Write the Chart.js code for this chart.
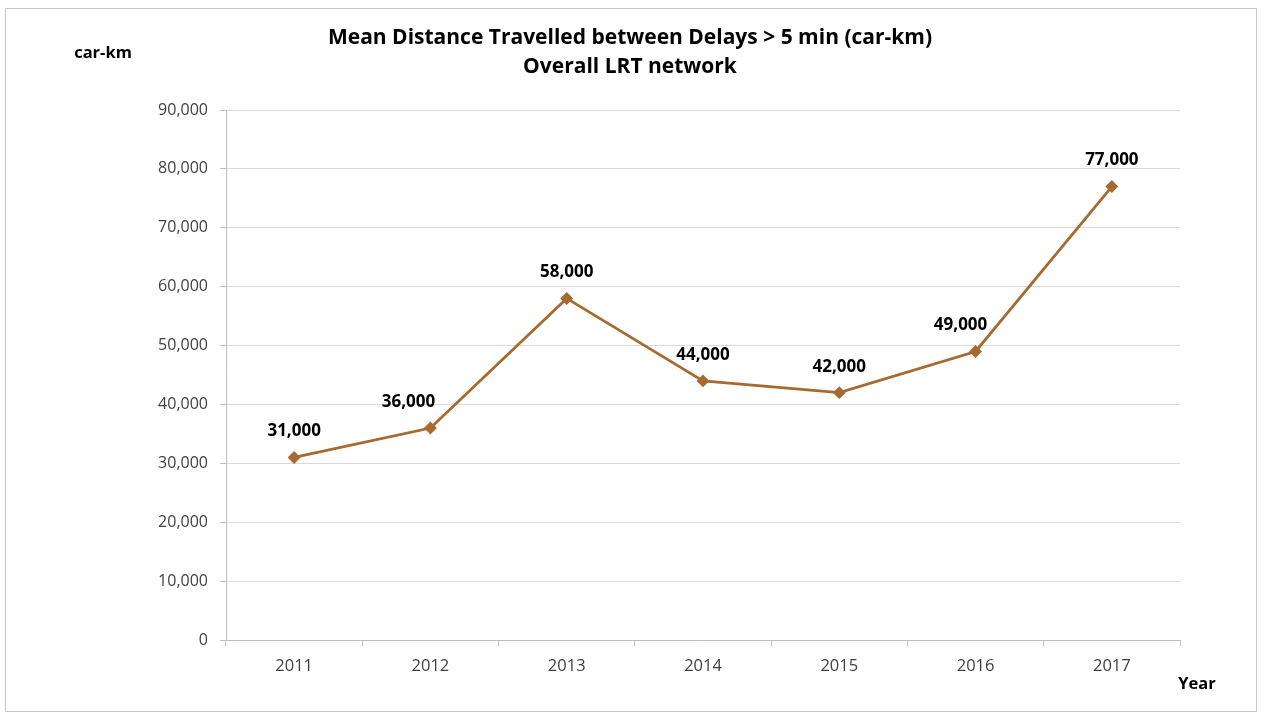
<!DOCTYPE html>
<html>
<head>
<meta charset="utf-8">
<script src="https://cdn.jsdelivr.net/npm/chart.js@4/dist/chart.umd.min.js"></script>
<style>
  html, body { margin: 0; padding: 0; background: #fff; }
  #wrap { width: 1261px; height: 717px; }
</style>
</head>
<body>
<div id="wrap"><canvas id="lrtChart" width="1261" height="717"></canvas></div>
<script>
    // Données
    const years = ['2011', '2012', '2013', '2014', '2015', '2016', '2017'];
    const meanDistance = [31000, 36000, 58000, 44000, 42000, 49000, 77000];
    const titleLines = ['Mean Distance Travelled between Delays > 5 min (car-km)', 'Overall LRT network'];

    const FONT = '"Open Sans", "DejaVu Sans", sans-serif';
    const LINE_COLOR = '#A6692F';

    // Cadre, titres et étiquettes de valeurs
    const decorations = {
        id: 'decorations',
        beforeDraw(chart) {
            const ctx = chart.ctx;
            ctx.save();
            ctx.fillStyle = '#fff';
            ctx.fillRect(0, 0, chart.width, chart.height);
            ctx.strokeStyle = '#c8c8c8';
            ctx.lineWidth = 1;
            ctx.strokeRect(5.5, 8.5, 1251, 703);
            ctx.restore();
        },
        afterDraw(chart) {
            const ctx = chart.ctx;
            ctx.save();
            ctx.fillStyle = '#000';
            ctx.textAlign = 'center';
            ctx.textBaseline = 'middle';
            ctx.font = 'bold 21px ' + FONT;
            ctx.fillText(titleLines[0], 630, 38);
            ctx.fillText(titleLines[1], 630, 67);

            ctx.font = 'bold 16.5px ' + FONT;
            ctx.fillText('car-km', 103, 53);
            ctx.fillText('Year', 1197, 684);

            // étiquettes au-dessus des points
            const shift = [0, -22, 0, 0, 0, -15, 0];
            ctx.font = 'bold 17px ' + FONT;
            const meta = chart.getDatasetMeta(0);
            meta.data.forEach(function (pt, i) {
                const label = meanDistance[i].toLocaleString('en-US');
                ctx.fillText(label, pt.x + shift[i], pt.y - 26);
            });
            ctx.restore();
        }
    };

    const ctx = document.getElementById('lrtChart').getContext('2d');
    new Chart(ctx, {
        type: 'line',
        data: {
            labels: years,
            datasets: [{
                label: 'Mean distance',
                data: meanDistance,
                borderColor: LINE_COLOR,
                backgroundColor: LINE_COLOR,
                borderWidth: 2.75,
                pointStyle: 'rectRot',
                pointRadius: 4.5,
                pointHoverRadius: 4.5,
                tension: 0,
                fill: false
            }]
        },
        options: {
            responsive: false,
            animation: false,
            layout: {
                padding: { left: 0, right: 81, top: 110, bottom: 0 }
            },
            plugins: {
                legend: { display: false },
                tooltip: { enabled: false },
                title: { display: false }
            },
            scales: {
                x: {
                    offset: true,
                    afterFit: function (scale) { scale.height = 77; },
                    grid: {
                        offset: true,
                        drawOnChartArea: false,
                        drawTicks: true,
                        tickLength: 6,
                        tickColor: '#bfbfbf'
                    },
                    border: { color: '#bfbfbf', width: 1 },
                    ticks: {
                        color: '#404040',
                        padding: 10,
                        font: { family: FONT, size: 16.5 }
                    }
                },
                y: {
                    min: 0,
                    max: 90000,
                    afterFit: function (scale) { scale.width = 226; },
                    grid: {
                        color: '#d9d9d9',
                        tickColor: '#bfbfbf',
                        tickLength: 6
                    },
                    border: { color: '#bfbfbf', width: 1 },
                    ticks: {
                        stepSize: 10000,
                        color: '#404040',
                        padding: 12,
                        font: { family: FONT, size: 16 },
                        callback: function (v) { return v.toLocaleString('en-US'); }
                    }
                }
            }
        },
        plugins: [decorations]
    });
</script>
</body>
</html>
